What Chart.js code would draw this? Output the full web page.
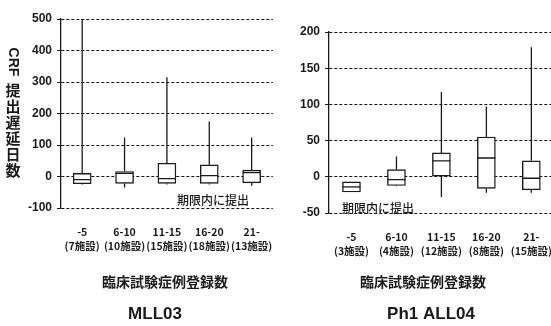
<!DOCTYPE html>
<html>
<head>
<meta charset="utf-8">
<script src="https://cdn.jsdelivr.net/npm/chart.js@4.4.1/dist/chart.umd.min.js"></script>
<style>
  html, body { margin: 0; padding: 0; background: #fff; overflow: hidden; }
  #wrap { position: relative; width: 551px; height: 326px; overflow: hidden; }
  canvas { position: absolute; top: 0; }
</style>
</head>
<body>
<div id="wrap">
  <canvas id="mll" width="290" height="326" style="left:0"></canvas>
  <canvas id="ph1" width="285" height="326" style="left:285px"></canvas>
</div>
<script>
// MLL03
const mllLabels = [['-5', '(7施設)'], ['6-10', '(10施設)'], ['11-15', '(15施設)'], ['16-20', '(18施設)'], ['21-', '(13施設)']];
const mllMin = [-25, -35, -25, -25, -29];
const mllQ1 = [-23, -22, -22, -22, -20];
const mllMed = [-10, 10, -7, 3, 12];
const mllQ3 = [10, 16, 42, 37, 20];
const mllMax = [500, 124, 315, 175, 124];
const mllTicks = { min: -100, max: 500, step: 100 };

// Ph1 ALL04
const phLabels = [['-5', '(3施設)'], ['6-10', '(4施設)'], ['11-15', '(12施設)'], ['16-20', '(8施設)'], ['21-', '(15施設)']];
const phMin = [-21, -13, -28, -22, -22];
const phQ1 = [-21, -12, 1, -16, -18];
const phMed = [-14, -4, 22, 26, -2];
const phQ3 = [-7, 10, 33, 55, 22];
const phMax = [-7, 28, 117, 97, 179];
const phTicks = { min: -50, max: 200, step: 50 };

const INK = '#1a1a1a';
const JP = '"Noto Sans CJK JP", sans-serif';
const NUM = '"Liberation Sans", Arial, sans-serif';

// whiskers and medians
const boxWhisker = {
    id: 'boxWhisker',
    afterDatasetsDraw(chart, args, opts) {
        const ctx = chart.ctx;
        const xs = chart.scales.x;
        const ys = chart.scales.y;
        ctx.save();
        ctx.strokeStyle = INK;
        ctx.lineWidth = 1.3;
        for (let i = 0; i < opts.med.length; i++) {
            const x = xs.getPixelForValue(i);
            ctx.beginPath();
            ctx.moveTo(x, ys.getPixelForValue(opts.q3[i]));
            ctx.lineTo(x, ys.getPixelForValue(opts.max[i]));
            ctx.moveTo(x, ys.getPixelForValue(opts.q1[i]));
            ctx.lineTo(x, ys.getPixelForValue(opts.min[i]));
            const ym = ys.getPixelForValue(opts.med[i]);
            ctx.moveTo(x - 9, ym);
            ctx.lineTo(x + 9, ym);
            ctx.stroke();
        }
        ctx.restore();
    }
};

// free texts
const texts = {
    id: 'texts',
    afterDraw(chart, args, opts) {
        const ctx = chart.ctx;
        ctx.save();
        ctx.fillStyle = INK;
        ctx.textAlign = 'center';
        ctx.textBaseline = 'middle';
        ctx.font = '500 12px ' + JP;
        ctx.fillText('期限内に提出', opts.note[0], opts.note[1]);
        ctx.font = 'bold 14px ' + JP;
        ctx.fillText('臨床試験症例登録数', opts.xTitle[0], opts.xTitle[1]);
        ctx.font = 'bold 17px ' + NUM;
        ctx.fillText(opts.title, opts.titlePos[0], opts.titlePos[1]);
        if (opts.yTitle) {
            ctx.save();
            ctx.translate(13, 62);
            ctx.rotate(Math.PI / 2);
            ctx.font = 'bold 14px ' + NUM;
            ctx.fillText('CRF', 0, 0);
            ctx.restore();
            ctx.font = 'bold 15px ' + JP;
            const chars = '提出遅延日数'.split('');
            chars.forEach((c, k) => ctx.fillText(c, 13, 90 + k * 16));
        }
        ctx.restore();
    }
};

function makeChart(id, labels, min, q1, med, q3, max, tk, cfg) {
    return new Chart(document.getElementById(id), {
        type: 'bar',
        data: {
            labels: labels,
            datasets: [{
                data: q1.map((v, i) => [v, q3[i]]),
                backgroundColor: '#fff',
                borderColor: INK,
                borderWidth: 1.4,
                borderSkipped: false,
                barThickness: 18
            }]
        },
        options: {
            responsive: false,
            animation: false,
            devicePixelRatio: 1,
            layout: { padding: cfg.padding },
            plugins: {
                legend: { display: false },
                tooltip: { enabled: false },
                boxWhisker: { min: min, q1: q1, med: med, q3: q3, max: max },
                texts: cfg.texts
            },
            scales: {
                x: {
                    grid: { display: false, drawTicks: false },
                    border: { display: false },
                    ticks: {
                        color: INK,
                        padding: 17,
                        maxRotation: 0,
                        autoSkip: false,
                        font: { family: JP, size: 10.5, weight: 'bold', lineHeight: 1.35 }
                    },
                    afterFit: s => { s.height = 50; }
                },
                y: {
                    min: tk.min,
                    max: tk.max,
                    grid: {
                        color: '#111',
                        lineWidth: 1,
                        tickLength: 4,
                        tickColor: INK,
                        tickBorderDash: [],
                        drawTicks: true
                    },
                    border: { display: true, color: INK, width: 1.3, dash: [3, 2] },
                    ticks: {
                        stepSize: tk.step,
                        color: INK,
                        padding: 5,
                        font: { family: NUM, size: 12, weight: 'bold' }
                    },
                    afterFit: s => { s.width = cfg.yWidth; }
                }
            }
        },
        plugins: [boxWhisker, texts]
    });
}

makeChart('mll', mllLabels, mllMin, mllQ1, mllMed, mllQ3, mllMax, mllTicks, {
    padding: { left: 0, right: 7, top: 19, bottom: 68 },
    yWidth: 61,
    texts: { note: [213, 200], xTitle: [165, 282], title: 'MLL03', titlePos: [155, 314], yTitle: true }
});

makeChart('ph1', phLabels, phMin, phQ1, phMed, phQ3, phMax, phTicks, {
    padding: { left: 0, right: 10, top: 32, bottom: 63 },
    yWidth: 44,
    texts: { note: [93, 208], xTitle: [138, 282], title: 'Ph1 ALL04', titlePos: [146, 314], yTitle: false }
});
</script>
</body>
</html>
